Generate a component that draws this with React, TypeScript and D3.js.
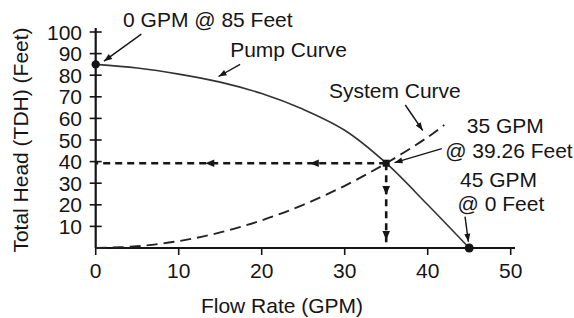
import React from "react";
import * as d3 from "d3";

const xTicks = [0, 10, 20, 30, 40, 50];
const yTicks = [10, 20, 30, 40, 50, 60, 70, 80, 90, 100];

const pumpFlow = [0, 5, 10, 15, 20, 25, 30, 35, 40, 45];
const pumpHead = [85, 83.3, 80.5, 76.8, 71.5, 64.2, 54.5, 39.26, 20, 0];

const systemFlow = [0, 5, 10, 15, 20, 25, 30, 35, 40, 42];
const systemHead = [0, 0.8, 3.2, 7.2, 12.8, 20, 28.8, 39.26, 51.3, 57];

const opFlow = 35;
const opHead = 39.26;

const W = 574;
const H = 318;
const FONT = "'Liberation Sans', Arial, Helvetica, sans-serif";
const INK = "#151515";

export default function App() {
  const x = d3.scaleLinear().domain([0, 50]).range([95.7, 510.7]);
  const y = d3.scaleLinear().domain([0, 100]).range([248, 32]);

  const pump = pumpFlow.map((q, i) => [q, pumpHead[i]] as [number, number]);
  const sys = systemFlow.map((q, i) => [q, systemHead[i]] as [number, number]);

  const line = d3
    .line<[number, number]>()
    .x((d) => x(d[0]))
    .y((d) => y(d[1]))
    .curve(d3.curveCatmullRom.alpha(0.5));

  const arrowHead = (tx: number, ty: number, fx: number, fy: number, len = 8, wid = 3.5) => {
    const a = Math.atan2(ty - fy, tx - fx);
    const bx = tx - len * Math.cos(a);
    const by = ty - len * Math.sin(a);
    const px = -Math.sin(a) * wid;
    const py = Math.cos(a) * wid;
    return `M${tx},${ty}L${bx + px},${by + py}L${bx - px},${by - py}Z`;
  };

  // annotation arrows in data coordinates [fromQ, fromH, toQ, toH]
  const annArrows: [number, number, number, number][] = [
    [5.5, 99, 1.0, 86.5],
    [17.4, 85, 14.8, 79.4],
    [37.3, 66.2, 39.4, 54.4],
    [41.7, 46, 36.0, 39.5],
    [44.5, 14.5, 44.9, 2.9],
  ];

  const labels: { t: string; q: number; h: number }[] = [
    { t: "0 GPM @ 85 Feet", q: 3.3, h: 102.3 },
    { t: "Pump Curve", q: 16.2, h: 88.4 },
    { t: "System Curve", q: 28.1, h: 69.3 },
    { t: "35 GPM", q: 44.7, h: 53.1 },
    { t: "@ 39.26 Feet", q: 42.1, h: 41.6 },
    { t: "45 GPM", q: 43.9, h: 28.4 },
    { t: "@ 0 Feet", q: 43.6, h: 17.3 },
  ];

  const ox = x(opFlow);
  const oy = y(opHead);
  const hArrowQ = [25.8, 13.2];
  const vArrowH = [24.5, 3.7];

  return (
    <svg
      width={W}
      height={H}
      style={{ position: "absolute", left: 0, top: 0, background: "#fff" }}
      fontFamily={FONT}
    >
      <rect width={W} height={H} fill="#fff" />
      {/* axes */}
      <line x1={x(0)} x2={x(0)} y1={28} y2={y(0)} stroke={INK} strokeWidth={2.2} />
      <line x1={x(0)} x2={515} y1={y(0)} y2={y(0)} stroke={INK} strokeWidth={2.2} />
      {yTicks.map((t) => (
        <g key={"y" + t}>
          <line x1={x(0) - 6} x2={x(0) + 6} y1={y(t)} y2={y(t)} stroke={INK} strokeWidth={1.6} />
          <text x={82} y={y(t) + 7.5} textAnchor="end" fontSize={21} fill={INK}>
            {t}
          </text>
        </g>
      ))}
      {xTicks.map((t) => (
        <g key={"x" + t}>
          <line x1={x(t)} x2={x(t)} y1={y(0)} y2={y(0) + 7} stroke={INK} strokeWidth={1.6} />
          <text x={x(t)} y={278} textAnchor="middle" fontSize={21} fill={INK}>
            {t}
          </text>
        </g>
      ))}
      <text x={282} y={313} textAnchor="middle" fontSize={21} fill={INK}>
        Flow Rate (GPM)
      </text>
      <text
        transform={`translate(28,140) rotate(-90)`}
        textAnchor="middle"
        fontSize={21}
        fill={INK}
      >
        Total Head (TDH) (Feet)
      </text>

      {/* curves */}
      <path d={line(pump) || ""} fill="none" stroke="#333" strokeWidth={1.6} />
      <path
        d={line(sys) || ""}
        fill="none"
        stroke="#222"
        strokeWidth={1.9}
        strokeDasharray="11 6"
      />

      {/* operating point guides */}
      <line x1={ox} x2={x(0)} y1={oy} y2={oy} stroke={INK} strokeWidth={2.6} strokeDasharray="7 5" />
      <line x1={ox} x2={ox} y1={oy} y2={y(0)} stroke={INK} strokeWidth={2.6} strokeDasharray="7 5" />
      {hArrowQ.map((q) => (
        <path key={"ha" + q} d={arrowHead(x(q), oy, x(q) + 10, oy, 9, 3.8)} fill={INK} />
      ))}
      {vArrowH.map((h) => (
        <path key={"va" + h} d={arrowHead(ox, y(h), ox, y(h) - 10, 9, 3.8)} fill={INK} />
      ))}

      {/* points */}
      <circle cx={x(0)} cy={y(85)} r={4.2} fill={INK} />
      <circle cx={x(45)} cy={y(0)} r={4.5} fill={INK} />
      <rect x={ox - 3.5} y={oy - 3.5} width={7} height={7} fill={INK} />

      {/* annotation arrows */}
      {annArrows.map(([fq, fh, tq, th], i) => {
        const fx = x(fq), fy = y(fh), tx = x(tq), ty = y(th);
        return (
          <g key={"aa" + i}>
            <line x1={fx} y1={fy} x2={tx} y2={ty} stroke={INK} strokeWidth={1.4} />
            <path d={arrowHead(tx, ty, fx, fy, 8, 3)} fill={INK} />
          </g>
        );
      })}
      {labels.map((l) => (
        <text key={l.t} x={x(l.q)} y={y(l.h)} fontSize={21} fill={INK}>
          {l.t}
        </text>
      ))}
    </svg>
  );
}
